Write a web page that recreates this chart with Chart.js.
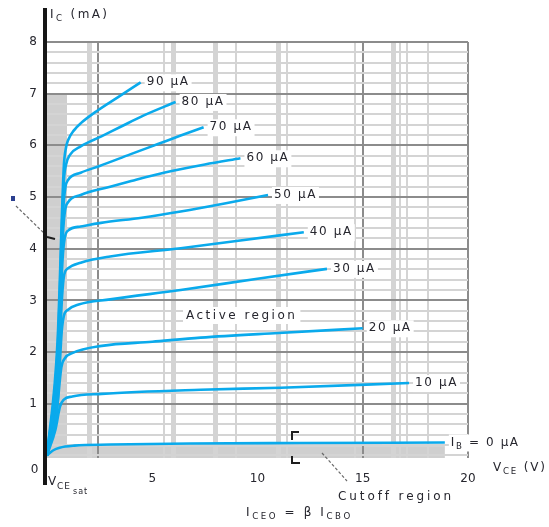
<!DOCTYPE html>
<html>
<head>
<meta charset="utf-8">
<script src="https://cdn.jsdelivr.net/npm/chart.js@4.4.1/dist/chart.umd.min.js"></script>
<style>
  html, body { margin: 0; padding: 0; background: #ffffff; }
  #wrap { width: 549px; height: 527px; }
</style>
</head>
<body>
<div id="wrap"><canvas id="c" width="549" height="527"></canvas></div>
<script>
// Common-emitter collector characteristics: I_C (mA) against V_CE (V), one curve per base current.

// Axis ticks
const vceTicks = [5, 10, 15, 20];
const icTicks = [1, 2, 3, 4, 5, 6, 7, 8];

// Base-current curves, points as [V_CE in V, I_C in mA]
const ib0uA  = [[0, 0], [0.3, 0.1], [0.6, 0.15], [1.3, 0.19], [3, 0.21], [6.8, 0.23], [12, 0.24], [18.9, 0.25]];
const ib10uA = [[0, 0], [0.4, 0.5], [0.62, 0.95], [0.8, 1.08], [1.2, 1.14], [2.6, 1.19], [7.3, 1.27], [11.1, 1.31], [17.2, 1.4]];
const ib20uA = [[0, 0], [0.45, 0.8], [0.68, 1.7], [0.85, 1.88], [1.2, 1.98], [2.6, 2.12], [5, 2.2], [7.3, 2.28], [11, 2.37], [15, 2.46]];
const ib30uA = [[0, 0], [0.5, 1.0], [0.7, 2.4], [0.8, 2.7], [1.0, 2.82], [1.5, 2.92], [3, 3.02], [6.35, 3.2], [10, 3.42], [13.3, 3.61]];
const ib40uA = [[0, 0], [0.5, 1.2], [0.72, 3.1], [0.82, 3.5], [1.0, 3.62], [1.6, 3.73], [3, 3.85], [6.35, 4.01], [9, 4.15], [12.2, 4.32]];
const ib50uA = [[0, 0], [0.5, 1.4], [0.74, 3.8], [0.84, 4.2], [1.0, 4.35], [1.6, 4.43], [2.56, 4.5], [4.5, 4.6], [6.35, 4.72], [8.5, 4.88], [10.5, 5.04]];
const ib60uA = [[0, 0], [0.5, 1.6], [0.76, 4.3], [0.86, 4.75], [1.0, 4.9], [1.6, 5.04], [3, 5.2], [4, 5.31], [5.55, 5.47], [7.5, 5.63], [9.19, 5.75]];
const ib70uA = [[0, 0], [0.5, 1.8], [0.78, 4.8], [0.88, 5.2], [1.0, 5.33], [1.6, 5.47], [2.5, 5.6], [3.98, 5.83], [5.3, 6.03], [6.35, 6.19], [7.44, 6.35]];
const ib80uA = [[0, 0], [0.5, 2.0], [0.8, 5.3], [0.9, 5.62], [1.1, 5.82], [1.6, 5.98], [2.56, 6.17], [3.5, 6.36], [4.6, 6.58], [6.11, 6.84]];
const ib90uA = [[0, 0], [0.5, 2.2], [0.8, 5.6], [0.9, 5.95], [1.0, 6.1], [1.28, 6.29], [1.61, 6.43], [2.42, 6.68], [3.36, 6.93], [4.45, 7.22]];

const curves = [ib0uA, ib10uA, ib20uA, ib30uA, ib40uA, ib50uA, ib60uA, ib70uA, ib80uA, ib90uA];
// Curve labels; text inside {} is drawn as a subscript
const curveLabels = ['I{B} = 0 μA', '10 μA', '20 μA', '30 μA', '40 μA', '50 μA', '60 μA', '70 μA', '80 μA', '90 μA'];

// Shaded regions (V_CE range, I_C range)
const saturationRegion = { vce: [0, 0.95], ic: [-0.05, 7.0] };
const cutoffRegion = { vce: [0, 18.9], ic: [-0.05, 0.18] };

// Graph-paper rulings along V_CE
const vceRulings = [2.0, 2.42, 5.55, 6.02, 8.0, 8.96, 10.99, 11.42, 14.64, 15.0, 16.45, 16.78, 17.11, 18.1, 20];
const vceRulingsBold = [2.42, 15.0, 20];
const vceRulingsWide = [2.0, 6.02, 8.0, 10.99, 16.45];

const CURVE_COLOR = '#0aaaec';
const TEXT_COLOR = '#26262e';
const FONT = '"DejaVu Sans", sans-serif';

function parseMarkup(str) {
  const parts = [];
  const re = /\{([^}]*)\}|([^{]+)/g;
  let m;
  while ((m = re.exec(str)) !== null) {
    if (m[1] !== undefined) parts.push({ t: m[1], sub: true });
    else parts.push({ t: m[2], sub: false });
  }
  return parts;
}

// Draws text with {subscript} markup
function drawMarkup(ctx, str, x, y, size, spacing) {
  ctx.save();
  ctx.textBaseline = 'middle';
  ctx.textAlign = 'left';
  ctx.letterSpacing = spacing + 'px';
  let cx = x;
  for (const p of parseMarkup(str)) {
    const s = p.sub ? size * 0.72 : size;
    ctx.font = s + 'px ' + FONT;
    ctx.fillText(p.t, cx, y + (p.sub ? size * 0.32 : 0));
    cx += ctx.measureText(p.t).width;
  }
  ctx.restore();
  return cx - x;
}

function measureMarkup(ctx, str, size, spacing) {
  ctx.save();
  ctx.letterSpacing = spacing + 'px';
  let w = 0;
  for (const p of parseMarkup(str)) {
    ctx.font = (p.sub ? size * 0.72 : size) + 'px ' + FONT;
    w += ctx.measureText(p.t).width;
  }
  ctx.restore();
  return w;
}

const decorations = {
  id: 'decorations',
  beforeDraw(chart) {
    const { ctx } = chart;
    const xs = chart.scales.x, ys = chart.scales.y;
    ctx.save();
    ctx.fillStyle = '#cfcfcf';
    for (const r of [saturationRegion, cutoffRegion]) {
      const x0 = xs.getPixelForValue(r.vce[0]), x1 = xs.getPixelForValue(r.vce[1]);
      const y0 = ys.getPixelForValue(r.ic[1]), y1 = ys.getPixelForValue(r.ic[0]);
      ctx.fillRect(x0, y0, x1 - x0, y1 - y0);
    }
    ctx.restore();
  },
  afterDatasetsDraw(chart) {
    const { ctx, chartArea } = chart;
    const xs = chart.scales.x, ys = chart.scales.y;
    const size = 12;

    // Curve labels at the end of each curve, on a white ground
    curves.forEach((pts, i) => {
      const last = pts[pts.length - 1];
      const px = xs.getPixelForValue(last[0]) + 6;
      const py = ys.getPixelForValue(last[1]);
      const w = measureMarkup(ctx, curveLabels[i], size, 1.6);
      ctx.fillStyle = '#ffffff';
      ctx.fillRect(px - 2, py - 8, w + 4, 17);
      ctx.fillStyle = TEXT_COLOR;
      drawMarkup(ctx, curveLabels[i], px, py, size, 1.6);
    });

    // Region labels
    const act = 'Active region';
    const aw = measureMarkup(ctx, act, size, 2.5);
    ctx.fillStyle = '#ffffff';
    ctx.fillRect(183, 307, aw + 6, 17);
    ctx.fillStyle = TEXT_COLOR;
    drawMarkup(ctx, act, 186, 315.5, size, 2.5);
    drawMarkup(ctx, 'Cutoff region', 338, 497, size, 2.9);
    drawMarkup(ctx, 'I{CEO} = β I{CBO}', 246, 513, size, 2.6);

    // Axis titles
    drawMarkup(ctx, 'I{C} (mA)', 50, 15, size, 2.4);
    drawMarkup(ctx, 'V{CE} (V)', 493, 468, size, 1.8);
    // V_CEsat below the origin
    ctx.save();
    ctx.fillStyle = TEXT_COLOR;
    ctx.textBaseline = 'middle';
    ctx.font = size + 'px ' + FONT;
    ctx.letterSpacing = '1px';
    ctx.fillText('V', 48, 482);
    ctx.font = '9px ' + FONT;
    ctx.fillText('CE', 57, 487);
    ctx.font = '8px ' + FONT;
    ctx.fillText('sat', 73, 492);
    // origin label
    ctx.font = size + 'px ' + FONT;
    ctx.textAlign = 'center';
    ctx.fillText('0', 35, 470);
    ctx.restore();

    // I_CEO marker brackets
    ctx.save();
    ctx.strokeStyle = '#1e1e1e';
    ctx.lineWidth = 2;
    ctx.beginPath();
    ctx.moveTo(299, 432); ctx.lineTo(292, 432); ctx.lineTo(292, 440);
    ctx.moveTo(292, 456); ctx.lineTo(292, 463); ctx.lineTo(300, 463);
    ctx.stroke();
    // leader to the cutoff region
    ctx.strokeStyle = '#6a6a6a';
    ctx.lineWidth = 1.2;
    ctx.setLineDash([3, 2]);
    ctx.beginPath();
    ctx.moveTo(322, 453); ctx.lineTo(347, 481);
    ctx.stroke();
    // leader on the left
    ctx.beginPath();
    ctx.moveTo(16, 206); ctx.lineTo(47, 236);
    ctx.stroke();
    ctx.setLineDash([]);
    ctx.strokeStyle = '#1e1e1e';
    ctx.lineWidth = 2;
    ctx.beginPath();
    ctx.moveTo(47, 237); ctx.lineTo(55, 239);
    ctx.stroke();
    ctx.fillStyle = '#2b3f8f';
    ctx.fillRect(11, 196, 4, 5);
    ctx.restore();

    // Heavy I_C axis line
    ctx.save();
    ctx.fillStyle = '#161616';
    ctx.fillRect(chartArea.left - 4, 8, 4, 477);
    ctx.restore();
  }
};

const datasets = curves.map((pts, i) => ({
  label: curveLabels[i],
  data: pts,
  borderColor: CURVE_COLOR,
  borderWidth: 2.6,
  pointRadius: 0,
  fill: false,
  cubicInterpolationMode: 'monotone',
  clip: false
}));

new Chart(document.getElementById('c'), {
  type: 'line',
  data: { datasets },
  options: {
    responsive: false,
    animation: false,
    devicePixelRatio: 1,
    layout: { padding: { left: 0, top: 42, right: 81, bottom: 0 } },
    plugins: { legend: { display: false }, tooltip: { enabled: false } },
    scales: {
      x: {
        type: 'linear', position: 'bottom', min: 0, max: 20,
        afterBuildTicks: (s) => { s.ticks = vceTicks.map(v => ({ value: v })); },
        afterFit: (s) => { s.height = 69; },
        grid: { display: false },
        border: { display: false },
        ticks: { autoSkip: false, maxRotation: 0, padding: 6, color: TEXT_COLOR, font: { family: FONT, size: 12 } }
      },
      xg: {
        type: 'linear', position: 'bottom', min: 0, max: 20,
        afterBuildTicks: (s) => { s.ticks = vceRulings.map(v => ({ value: v })); },
        afterFit: (s) => { s.height = 0; },
        ticks: { display: false },
        border: { display: false },
        grid: {
          drawTicks: false,
          color: (c) => vceRulingsBold.includes(c.tick.value) ? '#8c8c8c' : '#d4d4d4',
          lineWidth: (c) => vceRulingsBold.includes(c.tick.value) ? 2 : (vceRulingsWide.includes(c.tick.value) ? 5 : 2)
        }
      },
      y: {
        type: 'linear', position: 'left', min: -0.05, max: 8,
        afterBuildTicks: (s) => {
          const t = [];
          for (let i = 0; i <= 40; i++) t.push({ value: Math.round(i * 2) / 10 });
          s.ticks = t;
        },
        afterFit: (s) => { s.width = 47; },
        border: { display: false },
        grid: {
          drawTicks: false,
          color: (c) => (c.tick.value > 0 && Number.isInteger(c.tick.value)) ? '#8c8c8c' : '#d4d4d4',
          lineWidth: 2
        },
        ticks: {
          autoSkip: false, padding: 10, color: TEXT_COLOR, font: { family: FONT, size: 12 },
          callback: (v) => icTicks.includes(v) ? String(v) : ''
        }
      }
    }
  },
  plugins: [decorations]
});
</script>
</body>
</html>
